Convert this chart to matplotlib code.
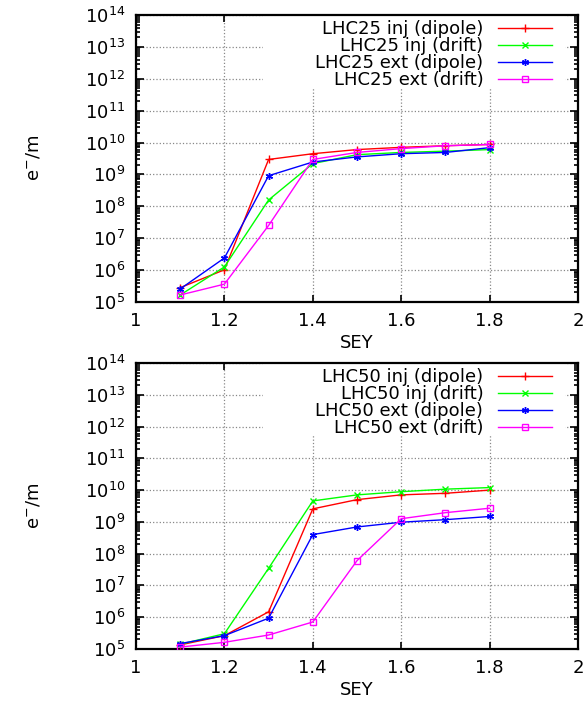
import numpy as np
import matplotlib
matplotlib.use("Agg")
import matplotlib.pyplot as plt
from matplotlib.patches import Rectangle
from matplotlib.ticker import FixedLocator, LogLocator, NullFormatter

plt.rcParams['font.family'] = ['DejaVu Sans']
plt.rcParams['mathtext.fontset'] = 'dejavusans'

# SEY values (x)
sey = [1.1, 1.2, 1.3, 1.4, 1.5, 1.6, 1.7, 1.8]

# log10 of e-/m
lhc25_inj_dip = [5.45, 6.01, 9.47, 9.65, 9.78, 9.85, 9.90, 9.94]
lhc25_inj_dri = [5.22, 6.10, 8.20, 9.34, 9.62, 9.69, 9.73, 9.78]
lhc25_ext_dip = [5.41, 6.38, 8.96, 9.39, 9.55, 9.65, 9.69, 9.84]
lhc25_ext_dri = [5.22, 5.56, 7.40, 9.47, 9.69, 9.81, 9.90, 9.94]

lhc50_inj_dip = [5.13, 5.42, 6.17, 9.41, 9.70, 9.85, 9.90, 10.00]
lhc50_inj_dri = [5.15, 5.48, 7.54, 9.66, 9.85, 9.95, 10.03, 10.08]
lhc50_ext_dip = [5.17, 5.42, 5.97, 8.60, 8.84, 8.99, 9.07, 9.17]
lhc50_ext_dri = [5.06, 5.21, 5.44, 5.85, 7.78, 9.10, 9.29, 9.43]

labels_25 = ['LHC25 inj (dipole)', 'LHC25 inj (drift)', 'LHC25 ext (dipole)', 'LHC25 ext (drift)']
labels_50 = ['LHC50 inj (dipole)', 'LHC50 inj (drift)', 'LHC50 ext (dipole)', 'LHC50 ext (drift)']

colors = ['#ff0000', '#00ff00', '#0000ff', '#ff00ff']
markers = ['+', 'x', (6, 2, 0), 's']
msizes = [6, 5, 5, 5]

fig = plt.figure(figsize=(5.87, 7.04), dpi=100)
ax1 = fig.add_axes([136/587, 1 - 302/704, 442/587, 287/704])
ax2 = fig.add_axes([136/587, 1 - 649/704, 442/587, 286/704])


def draw(ax, series, labels):
    ax.set_axisbelow(True)
    for i, (vals, lab) in enumerate(zip(series, labels)):
        y = [10 ** v for v in vals]
        mfc = 'none' if markers[i] == 's' else colors[i]
        ax.plot(sey, y, color=colors[i], lw=1.0, marker=markers[i], ms=msizes[i],
                mfc=mfc, mec=colors[i], mew=1.0, label=lab, zorder=3)
    ax.set_yscale('log')
    ax.set_xlim(1, 2)
    ax.set_ylim(1e5, 1e14)
    ax.xaxis.set_major_locator(FixedLocator([1, 1.2, 1.4, 1.6, 1.8, 2]))
    ax.set_xticklabels(['1', '1.2', '1.4', '1.6', '1.8', '2'])
    ax.yaxis.set_major_locator(FixedLocator([10.0 ** k for k in range(5, 15)]))
    ax.set_yticklabels([r'$10^{%d}$' % k for k in range(5, 15)])
    ax.yaxis.set_minor_locator(LogLocator(base=10, subs=np.arange(2, 10), numticks=20))
    ax.yaxis.set_minor_formatter(NullFormatter())
    ax.tick_params(axis='both', which='both', direction='in', top=True, right=True,
                   labelsize=13, width=1.2)
    ax.tick_params(axis='y', which='major', length=6, pad=8)
    ax.tick_params(axis='y', which='minor', length=3)
    ax.tick_params(axis='x', which='major', length=5, pad=7)
    ax.grid(True, which='major', color='#888888', linestyle=':', linewidth=0.9)
    for s in ax.spines.values():
        s.set_linewidth(1.6)
    # white key area hides the grid like gnuplot does
    ax.add_patch(Rectangle((0.287, 0.746), 0.684, 0.254, transform=ax.transAxes,
                           facecolor='white', edgecolor='none', zorder=1))
    ax.legend(loc='upper right', bbox_to_anchor=(0.941, 0.983), frameon=False,
              markerfirst=False, fontsize=13, handlelength=3.0, handletextpad=0.8,
              labelspacing=-0.05, borderpad=0, borderaxespad=0)


draw(ax1, [lhc25_inj_dip, lhc25_inj_dri, lhc25_ext_dip, lhc25_ext_dri], labels_25)
draw(ax2, [lhc50_inj_dip, lhc50_inj_dri, lhc50_ext_dip, lhc50_ext_dri], labels_50)

fig.text(357/587, 1 - 343/704, 'SEY', ha='center', va='center', fontsize=13)
fig.text(357/587, 1 - 690/704, 'SEY', ha='center', va='center', fontsize=13)
fig.text(33/587, 1 - 158/704, r'e$^{-}$/m', ha='center', va='center', rotation=90, fontsize=13)
fig.text(33/587, 1 - 506/704, r'e$^{-}$/m', ha='center', va='center', rotation=90, fontsize=13)

fig.savefig('out.png', dpi=100)
